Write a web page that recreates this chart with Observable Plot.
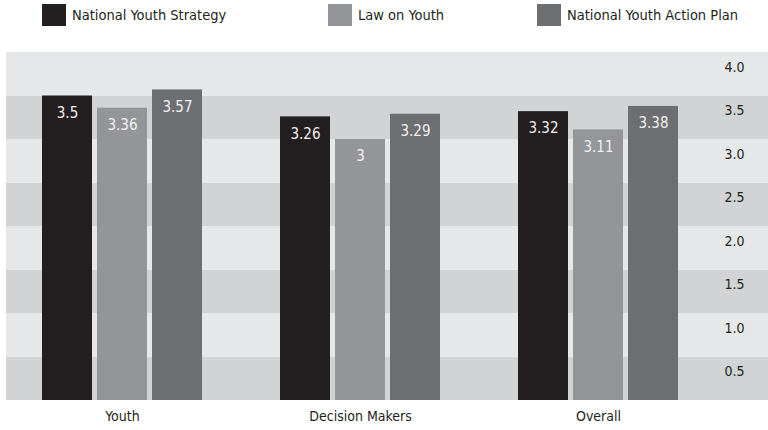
<!DOCTYPE html>
<html>
<head>
<meta charset="utf-8">
<script src="https://cdn.jsdelivr.net/npm/d3@7"></script>
<script src="https://cdn.jsdelivr.net/npm/@observablehq/plot@0.6"></script>
<style>
  html, body { margin: 0; padding: 0; background: #fff; }
  body { width: 768px; height: 430px; overflow: hidden; font-family: "DejaVu Sans Condensed", "DejaVu Sans", sans-serif; font-stretch: condensed; color: #231f20; }
  #legend { position: relative; height: 30px; }
  .item { position: absolute; top: 4px; display: flex; align-items: center; height: 22px; font-size: 14.5px; }
  .sw { width: 24px; height: 22px; margin-right: 6px; }
  #chart { position: relative; width: 768px; height: 400px; }
  #chart svg { position: absolute; left: 0; top: 0; }
</style>
</head>
<body>
<div id="legend"></div>
<div id="chart"></div>
<script>
const groups = ["Youth", "Decision Makers", "Overall"];
const series = ["National Youth Strategy", "Law on Youth", "National Youth Action Plan"];
const nysValues = [3.5, 3.26, 3.32];
const lawValues = [3.36, 3, 3.11];
const actionValues = [3.57, 3.29, 3.38];
const yTicks = [0.5, 1.0, 1.5, 2.0, 2.5, 3.0, 3.5, 4.0];
const seriesColors = ["#231f20", "#939598", "#6d6e71"];
const stripeColors = ["#d1d3d4", "#e6e7e8"];

const valuesBySeries = [nysValues, lawValues, actionValues];
const data = [];
groups.forEach((g, gi) => series.forEach((s, si) => data.push({group: g, series: s, value: valuesBySeries[si][gi]})));

const stripes = yTicks.map((t, i) => ({lo: t - 0.5, hi: t, fill: stripeColors[i % 2]}));

// Legend
const legendPos = [42, 328, 537];
const legend = document.getElementById("legend");
series.forEach((s, i) => {
  const it = document.createElement("div");
  it.className = "item";
  it.style.left = legendPos[i] + "px";
  const sw = document.createElement("div");
  sw.className = "sw";
  sw.style.background = seriesColors[i];
  const tx = document.createElement("span");
  tx.textContent = s;
  it.appendChild(sw); it.appendChild(tx);
  legend.appendChild(it);
});

const font = {fontFamily: '"DejaVu Sans Condensed", "DejaVu Sans", sans-serif', fontSize: "14px", color: "#231f20"};

const bg = Plot.plot({
  width: 768, height: 400,
  marginLeft: 6, marginRight: 0, marginTop: 22, marginBottom: 30,
  style: {...font, background: "white"},
  x: {axis: null},
  y: {domain: [0, 4], axis: null},
  color: {type: "identity"},
  marks: [
    Plot.rect(stripes, {y1: "lo", y2: "hi", fill: "fill"}),
    Plot.text(yTicks, {y: d => d, frameAnchor: "right", dx: -44, dy: 15, textAnchor: "start", text: d => d.toFixed(1), fill: "#231f20", fontSize: 14})
  ]
});

const fg = Plot.plot({
  width: 768, height: 400,
  marginLeft: 3, marginRight: 51, marginTop: 22, marginBottom: 30,
  style: {...font, background: "transparent"},
  fx: {domain: groups, paddingInner: 0, paddingOuter: 0, axis: "bottom", tickSize: 0, tickPadding: 11, label: null},
  x: {domain: series, paddingInner: 0.1, paddingOuter: 0.69, axis: null},
  y: {domain: [0, 4], axis: null},
  color: {domain: series, range: seriesColors},
  facet: {data: data, x: "group"},
  marks: [
    Plot.barY(data, {x: "series", y: "value", fill: "series"}),
    Plot.text(data, {x: "series", y: "value", text: d => String(d.value), dy: 17, fill: "#f1f1f2", fontSize: 15})
  ]
});

const chart = document.getElementById("chart");
chart.appendChild(bg);
chart.appendChild(fg);
</script>
</body>
</html>
